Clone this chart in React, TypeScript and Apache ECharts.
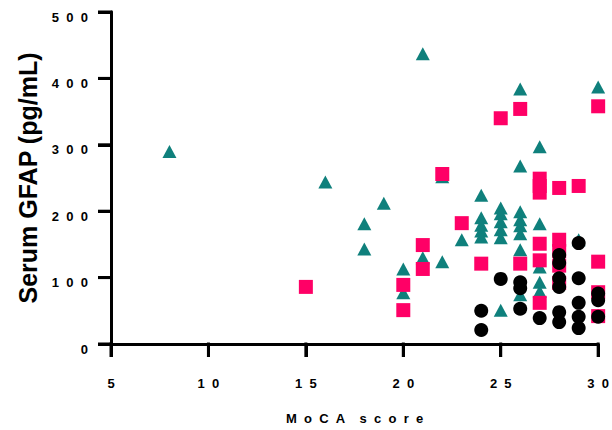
import React, { useEffect, useRef } from "react";
import * as echarts from "echarts";

// MoCA score (x) vs Serum GFAP pg/mL (y)
const triangleData: [number, number][] = [
  [8, 290], [16, 244], [18, 181], [18, 143], [19, 212], [20, 113], [20, 77],
  [21, 437], [21, 130], [22, 124], [22, 252], [23, 157],
  [24, 224], [24, 190], [24, 179], [24, 170], [24, 161],
  [25, 205], [25, 196], [25, 184], [25, 172], [25, 160], [25, 51],
  [26, 384], [26, 268], [26, 199], [26, 187], [26, 178], [26, 166], [26, 142], [26, 74],
  [27, 297], [27, 181], [27, 116], [27, 93], [27, 79],
  [29, 157], [30, 387],
];

const squareData: [number, number][] = [
  [15, 86], [20, 89], [20, 51], [21, 149], [21, 113], [22, 256], [23, 182],
  [24, 121], [25, 340], [26, 354], [26, 121],
  [27, 249], [27, 238], [27, 228], [27, 151], [27, 126], [27, 62],
  [28, 235], [28, 157], [28, 140], [28, 118], [28, 92],
  [29, 238],
  [30, 358], [30, 124], [30, 78], [30, 42],
];

const circleData: [number, number][] = [
  [24, 50], [24, 21], [25, 98], [26, 93], [26, 84], [26, 53], [27, 39],
  [28, 134], [28, 122], [28, 99], [28, 86], [28, 48], [28, 33],
  [29, 152], [29, 99], [29, 62], [29, 41], [29, 24],
  [30, 76], [30, 66], [30, 41],
];

const xTickValues = [5, 10, 15, 20, 25, 30];
const yTickValues = [0, 100, 200, 300, 400, 500];

const FONT = "Liberation Sans, Arial, sans-serif";
const GAP = "\u00A0\u00A0";
const spaced = (v: number | string) => String(v).split("").join(GAP);
const xName = "MoCA score".split(" ").map((w) => spaced(w)).join(GAP + GAP);
const TICK_LEN = 13;

function axisParts() {
  return {
    type: "value" as const,
    axisLine: { show: true, lineStyle: { color: "#000", width: 3 } },
    axisTick: { show: true, length: TICK_LEN, lineStyle: { color: "#000", width: 3 } },
    splitLine: { show: false },
  };
}

export default function App() {
  const ref = useRef<HTMLDivElement>(null);

  useEffect(() => {
    document.body.style.margin = "0";
    if (!ref.current) return;
    const chart = echarts.init(ref.current, undefined, { renderer: "svg" });
    chart.setOption({
      animation: false,
      backgroundColor: "#fff",
      grid: { left: 111, right: 12, top: 12, bottom: 86, containLabel: false },
      xAxis: {
        ...axisParts(),
        min: xTickValues[0],
        max: xTickValues[xTickValues.length - 1],
        interval: xTickValues[1] - xTickValues[0],
        axisLabel: {
          formatter: (v: number) => spaced(v),
          fontSize: 13,
          fontWeight: "bold",
          color: "#000",
          fontFamily: FONT,
          margin: 33,
        },
        name: xName,
        nameLocation: "middle",
        nameGap: 68,
        nameTextStyle: { fontSize: 13, fontWeight: "bold", color: "#000", fontFamily: FONT },
      },
      yAxis: {
        ...axisParts(),
        min: yTickValues[0],
        max: yTickValues[yTickValues.length - 1],
        interval: yTickValues[1] - yTickValues[0],
        axisLabel: {
          formatter: (v: number) => spaced(v),
          fontSize: 13,
          fontWeight: "bold",
          color: "#000",
          fontFamily: FONT,
          margin: 23,
          verticalAlign: "top",
          lineHeight: 10,
        },
        name: "Serum GFAP (pg/mL)",
        nameLocation: "middle",
        nameGap: 69,
        nameTextStyle: { fontSize: 25, fontWeight: "bold", color: "#000", fontFamily: FONT },
      },
      series: [
        {
          name: "Group 1",
          type: "scatter",
          data: triangleData,
          symbol: "triangle",
          symbolSize: [14, 13],
          itemStyle: { color: "#0F807C", opacity: 1 },
          z: 2,
        },
        {
          name: "Group 2",
          type: "scatter",
          data: squareData,
          symbol: "rect",
          symbolSize: 14,
          itemStyle: { color: "#FF0066", opacity: 1 },
          z: 3,
        },
        {
          name: "Group 3",
          type: "scatter",
          data: circleData,
          symbol: "circle",
          symbolSize: 14,
          itemStyle: { color: "#000", opacity: 1 },
          z: 4,
        },
        {
          name: "xTicks",
          type: "custom",
          clip: false,
          silent: true,
          z: 10,
          data: xTickValues.map((v) => [v, yTickValues[0]]),
          renderItem: (_p: any, api: any) => {
            const pt = api.coord([api.value(0), api.value(1)]);
            return {
              type: "line",
              shape: { x1: pt[0], y1: pt[1] - 1.5, x2: pt[0], y2: pt[1] + TICK_LEN },
              style: { stroke: "#000", lineWidth: 3, fill: "none" },
            };
          },
        },
        {
          name: "yTicks",
          type: "custom",
          clip: false,
          silent: true,
          z: 10,
          data: yTickValues.map((v) => [xTickValues[0], v]),
          renderItem: (_p: any, api: any) => {
            const pt = api.coord([api.value(0), api.value(1)]);
            return {
              type: "line",
              shape: { x1: pt[0] - TICK_LEN, y1: pt[1], x2: pt[0] + 1.5, y2: pt[1] },
              style: { stroke: "#000", lineWidth: 3, fill: "none" },
            };
          },
        },
      ],
    });

    return () => chart.dispose();
  }, []);

  return <div ref={ref} style={{ width: 612, height: 430 }} />;
}
